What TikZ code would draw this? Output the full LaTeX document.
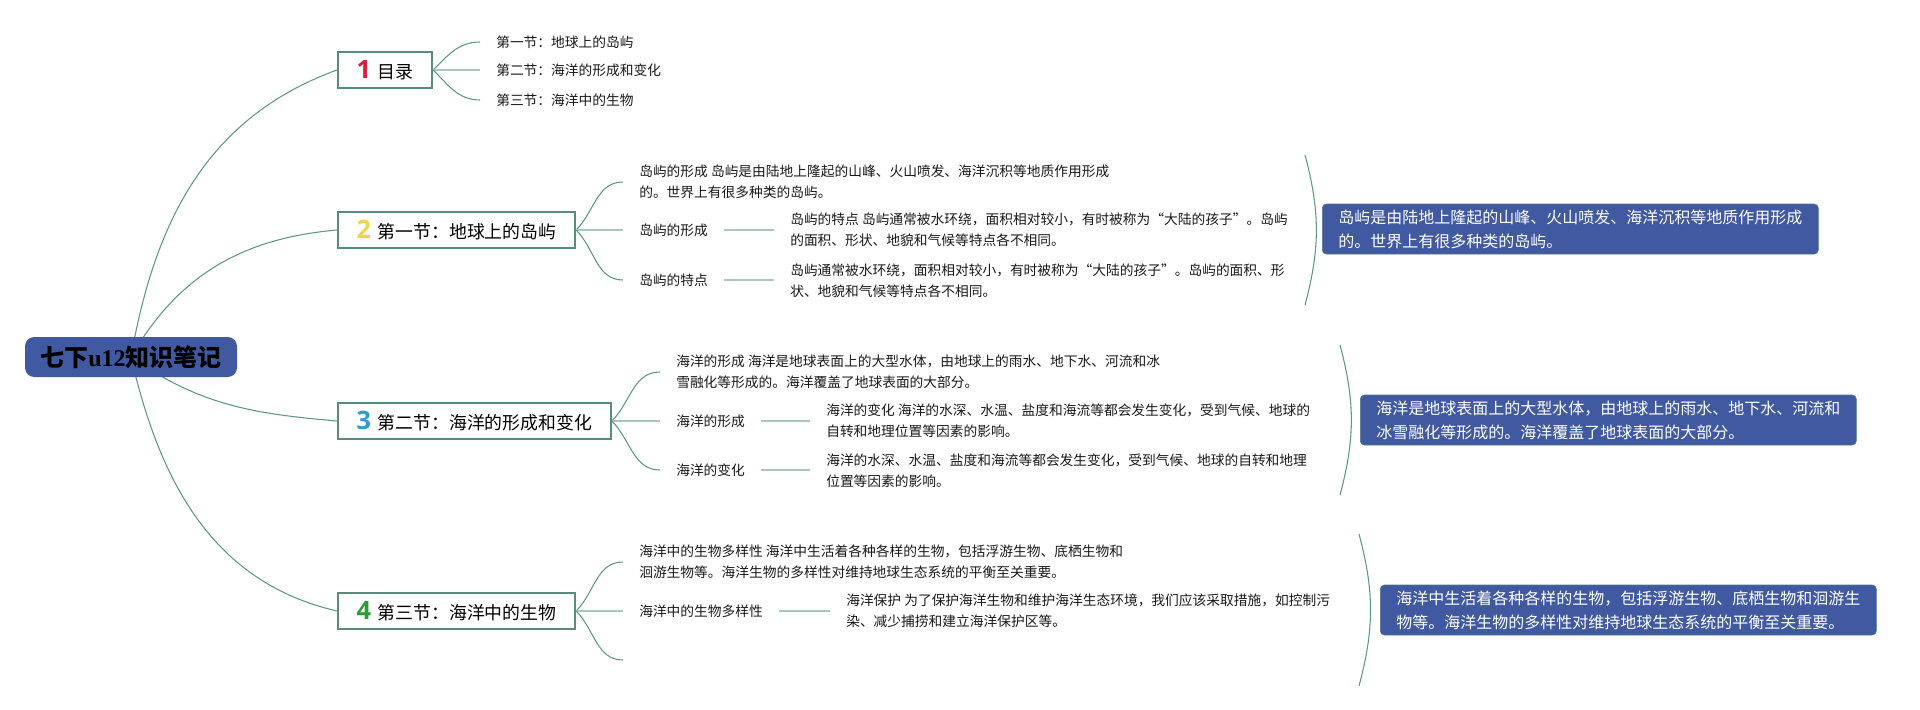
\documentclass[tikz,border=0pt]{standalone}
\usepackage{fontspec}
\setmainfont{Noto Sans CJK SC}
\newfontfamily\numfont{Open Sans}
\newfontfamily\latinserif{Liberation Serif}
\usetikzlibrary{backgrounds}

\definecolor{linkgreen}{HTML}{5F9787}
\definecolor{lightgreen}{HTML}{A8C8BD}
\definecolor{boxgreen}{HTML}{5A8C7D}
\definecolor{rootblue}{HTML}{4059A0}
\definecolor{numred}{HTML}{D81E3C}
\definecolor{numyellow}{HTML}{F2D24B}
\definecolor{numblue}{HTML}{2F9AD6}
\definecolor{numgreen}{HTML}{2C9C35}

\newcommand{\secnum}[2]{{\numfont\bfseries\fontsize{19}{19}\selectfont\color{#1}#2}\hspace{5pt}}

\begin{document}
\begin{tikzpicture}[
    x=0.75pt, y=0.75pt,
    root/.style={rectangle, rounded corners=7pt, fill=rootblue, minimum width=159pt, minimum height=30pt, font=\fontsize{18}{20}\selectfont\bfseries},
    section/.style={rectangle, draw=boxgreen, line width=1.5pt, fill=white, anchor=west, minimum height=27pt, inner xsep=14pt, inner ysep=0pt, font=\fontsize{13.4}{16}\selectfont},
    leaf/.style={anchor=west, align=left, inner xsep=12pt, inner ysep=2pt, text=black!90, font=\fontsize{10.3}{15.5}\selectfont},
    summary/.style={rectangle, rounded corners=3pt, draw=boxgreen!60!rootblue, fill=rootblue, text=white, anchor=west, align=left, inner xsep=12pt, minimum height=37.5pt, font=\fontsize{12}{18}\selectfont},
    link/.style={draw=linkgreen, line width=0.8pt},
    stem/.style={draw=lightgreen, line width=1.6pt},
    brace/.style={draw=linkgreen, line width=0.8pt}
]
\useasboundingbox (0,0) rectangle (1920,-710);

% Root
\node[root] (root) at (131,-357) {七下{\latinserif u12}知识笔记};

% Sections
\node[section] (s1) at (337,-70) {\secnum{numred}{1}目录};
\node[section] (s2) at (337,-230) {\secnum{numyellow}{2}第一节：地球上的岛屿};
\node[section] (s3) at (337,-421) {\secnum{numblue}{3}第二节：海洋的形成和变化};
\node[section] (s4) at (337,-611) {\secnum{numgreen}{4}第三节：海洋中的生物};

% Contents
\node[leaf] (n11) at (480,-42) {第一节：地球上的岛屿};
\node[leaf] (n12) at (480,-70) {第二节：海洋的形成和变化};
\node[leaf] (n13) at (480,-100) {第三节：海洋中的生物};

% Section 1: islands
\node[leaf] (c21) at (623,-182) {岛屿的形成 岛屿是由陆地上隆起的山峰、火山喷发、海洋沉积等地质作用形成\\的。世界上有很多种类的岛屿。};
\node[leaf] (c22) at (623,-230) {岛屿的形成};
\node[leaf] (c22t) at (774,-230) {岛屿的特点 岛屿通常被水环绕，面积相对较小，有时被称为“大陆的孩子”。岛屿\\的面积、形状、地貌和气候等特点各不相同。};
\node[leaf] (c23) at (623,-280) {岛屿的特点};
\node[leaf] (c23t) at (774,-281) {岛屿通常被水环绕，面积相对较小，有时被称为“大陆的孩子”。岛屿的面积、形\\状、地貌和气候等特点各不相同。};

% Section 2: oceans
\node[leaf] (c31) at (660,-372) {海洋的形成 海洋是地球表面上的大型水体，由地球上的雨水、地下水、河流和冰\\雪融化等形成的。海洋覆盖了地球表面的大部分。};
\node[leaf] (c32) at (660,-421) {海洋的形成};
\node[leaf] (c32t) at (810,-421) {海洋的变化 海洋的水深、水温、盐度和海流等都会发生变化，受到气候、地球的\\自转和地理位置等因素的影响。};
\node[leaf] (c33) at (660,-470) {海洋的变化};
\node[leaf] (c33t) at (810,-471) {海洋的水深、水温、盐度和海流等都会发生变化，受到气候、地球的自转和地理\\位置等因素的影响。};

% Section 3: marine life
\node[leaf] (c41) at (623,-562) {海洋中的生物多样性 海洋中生活着各种各样的生物，包括浮游生物、底栖生物和\\洄游生物等。海洋生物的多样性对维持地球生态系统的平衡至关重要。};
\node[leaf] (c42) at (623,-611) {海洋中的生物多样性};
\node[leaf] (c42t) at (830,-611) {海洋保护 为了保护海洋生物和维护海洋生态环境，我们应该采取措施，如控制污\\染、减少捕捞和建立海洋保护区等。};
\coordinate (c44) at (623,-660);

% Summaries
\node[summary] (sm2) at (1322,-229) {岛屿是由陆地上隆起的山峰、火山喷发、海洋沉积等地质作用形成\\的。世界上有很多种类的岛屿。};
\node[summary] (sm3) at (1360,-420) {海洋是地球表面上的大型水体，由地球上的雨水、地下水、河流和\\冰雪融化等形成的。海洋覆盖了地球表面的大部分。};
\node[summary] (sm4) at (1380,-610) {海洋中生活着各种各样的生物，包括浮游生物、底栖生物和洄游生\\物等。海洋生物的多样性对维持地球生态系统的平衡至关重要。};

\coordinate (b2t) at (1305,-155);
\coordinate (b2b) at (1305,-305);
\coordinate (b3t) at (1340,-345);
\coordinate (b3b) at (1340,-495);
\coordinate (b4t) at (1359,-534);
\coordinate (b4b) at (1359,-686);

% Root links
\begin{scope}[on background layer]
\draw[link] (root.center) to[out=80,in=200] (s1.west);
\draw[link] (root.center) to[out=60,in=185] (s2.west);
\draw[link] (root.center) to[out=-35,in=175] (s3.west);
\draw[link] (root.center) to[out=-77,in=167] (s4.west);
\end{scope}

% Branches
\draw[link] (s1.east) to[out=45,in=180] (n11.west);
\draw[stem] (s1.east) -- (n12.west);
\draw[link] (s1.east) to[out=-45,in=180] (n13.west);

\draw[link] (s2.east) to[out=45,in=180] (c21.west);
\draw[stem] (s2.east) -- (c22.west);
\draw[link] (s2.east) to[out=-45,in=180] (c23.west);
\draw[stem] (c22.east) -- (c22t.west);
\draw[stem] (c23.east) -- (c23t.west |- c23.east);

\draw[link] (s3.east) to[out=45,in=180] (c31.west);
\draw[stem] (s3.east) -- (c32.west);
\draw[link] (s3.east) to[out=-45,in=180] (c33.west);
\draw[stem] (c32.east) -- (c32t.west);
\draw[stem] (c33.east) -- (c33t.west |- c33.east);

\draw[link] (s4.east) to[out=45,in=180] (c41.west);
\draw[stem] (s4.east) -- (c42.west);
\draw[link] (s4.east) to[out=-45,in=180] (c44);
\draw[stem] (c42.east) -- (c42t.west);

% Summary braces
\draw[brace] (b2t) to[out=-75,in=75] (b2b);
\draw[brace] (b3t) to[out=-75,in=75] (b3b);
\draw[brace] (b4t) to[out=-75,in=75] (b4b);

\end{tikzpicture}
\end{document}
